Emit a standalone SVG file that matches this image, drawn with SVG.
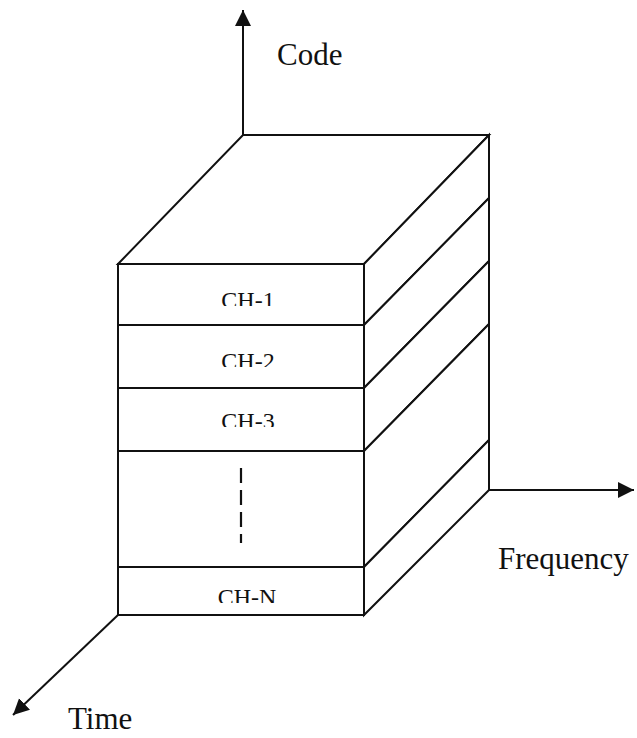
<svg xmlns="http://www.w3.org/2000/svg" width="637" height="738" viewBox="0 0 637 738">
  <style>
    .edge { fill: #fff; stroke: #111; stroke-width: 2; stroke-linejoin: miter; }
    .axis { fill: none; stroke: #111; stroke-width: 2; }
    .label { font-family: "Liberation Serif", "Times New Roman", serif; font-size: 31px; fill: #111; }
    .ch { font-family: "Liberation Serif", "Times New Roman", serif; font-size: 24px; fill: #111; text-anchor: middle; }
    .dots { fill: none; stroke: #111; stroke-width: 2.2; stroke-dasharray: 15 7; }
  </style>
  <defs>
    <marker id="head" markerUnits="userSpaceOnUse" markerWidth="17" markerHeight="17" refX="16" refY="8" orient="auto">
      <path d="M0,0 L16,8 L0,16 Z" fill="#111"/>
    </marker>
    <!-- channel labels are shaved slightly at the baseline -->
    <clipPath id="cut1"><rect x="118" y="280" width="246" height="26"/></clipPath>
    <clipPath id="cut2"><rect x="118" y="340" width="246" height="27"/></clipPath>
    <clipPath id="cut3"><rect x="118" y="400" width="246" height="27"/></clipPath>
    <clipPath id="cutN"><rect x="118" y="575" width="246" height="28"/></clipPath>
  </defs>

  <!-- axes -->
  <g id="connectors">
    <line class="axis" x1="243" y1="136" x2="243" y2="10" marker-end="url(#head)"/>
    <line class="axis" x1="488" y1="490" x2="634" y2="490" marker-end="url(#head)"/>
    <line class="axis" x1="118" y1="615" x2="13" y2="715" marker-end="url(#head)"/>
  </g>

  <!-- top of the block -->
  <g id="top-face">
    <polygon class="edge" points="118,264 243,135 489,135 364,264"/>
  </g>

  <!-- channel slabs: front face + right face -->
  <g id="ch-1">
    <polygon class="edge" points="364,264 489,135 489,198 364,325"/>
    <rect class="edge" x="118" y="264" width="246" height="61"/>
    <text class="ch" x="248" y="308" clip-path="url(#cut1)">CH-1</text>
  </g>
  <g id="ch-2">
    <polygon class="edge" points="364,325 489,198 489,261 364,388"/>
    <rect class="edge" x="118" y="325" width="246" height="63"/>
    <text class="ch" x="248" y="369" clip-path="url(#cut2)">CH-2</text>
  </g>
  <g id="ch-3">
    <polygon class="edge" points="364,388 489,261 489,324 364,451"/>
    <rect class="edge" x="118" y="388" width="246" height="63"/>
    <text class="ch" x="248" y="429" clip-path="url(#cut3)">CH-3</text>
  </g>
  <g id="ch-gap">
    <polygon class="edge" points="364,451 489,324 489,440 364,567"/>
    <rect class="edge" x="118" y="451" width="246" height="116"/>
    <line class="dots" x1="241" y1="468" x2="241" y2="543"/>
  </g>
  <g id="ch-n">
    <polygon class="edge" points="364,567 489,440 489,490 364,615"/>
    <rect class="edge" x="118" y="567" width="246" height="48"/>
    <text class="ch" x="247" y="605" clip-path="url(#cutN)">CH-N</text>
  </g>

  <!-- axis names -->
  <g id="axis-labels">
    <text class="label" x="277" y="65">Code</text>
    <text class="label" x="498" y="569">Frequency</text>
    <text class="label" x="68" y="729">Time</text>
  </g>
</svg>
